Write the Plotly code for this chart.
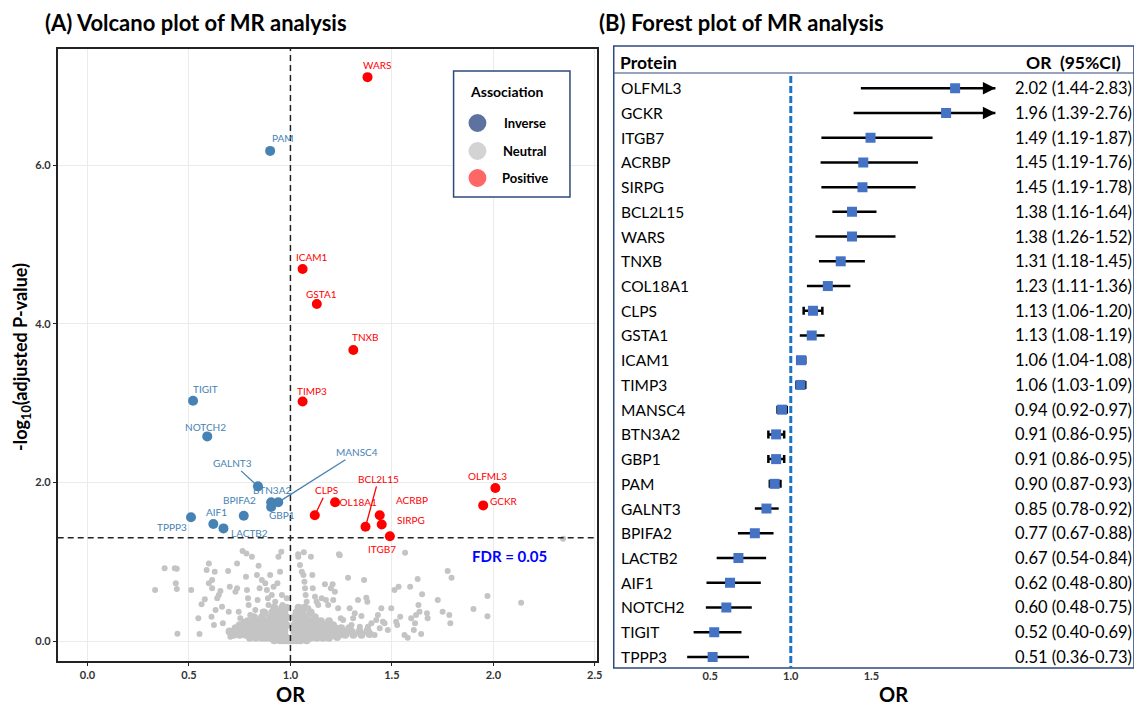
import plotly.graph_objects as go

W, H = 1134, 705
FONT = "Lato"

# ---------------- Volcano data ----------------
sig_genes = ["WARS", "PAM", "ICAM1", "GSTA1", "TNXB", "TIGIT", "TIMP3", "NOTCH2",
             "GALNT3", "BTN3A2", "MANSC4", "GBP1", "BPIFA2", "TPPP3", "AIF1", "LACTB2",
             "CLPS", "COL18A1", "ACRBP", "SIRPG", "BCL2L15", "ITGB7", "OLFML3", "GCKR"]
sig_or = [1.38, 0.90, 1.06, 1.13, 1.31, 0.52, 1.06, 0.59,
          0.84, 0.905, 0.94, 0.905, 0.77, 0.51, 0.62, 0.67,
          1.12, 1.22, 1.44, 1.45, 1.37, 1.49, 2.01, 1.95]
sig_logp = [7.11, 6.18, 4.69, 4.25, 3.67, 3.03, 3.02, 2.58,
            1.95, 1.75, 1.75, 1.69, 1.58, 1.56, 1.475, 1.42,
            1.585, 1.75, 1.585, 1.47, 1.44, 1.32, 1.93, 1.71]
sig_dir = ["Positive", "Inverse", "Positive", "Positive", "Positive", "Inverse", "Positive", "Inverse",
           "Inverse", "Inverse", "Inverse", "Inverse", "Inverse", "Inverse", "Inverse", "Inverse",
           "Positive", "Positive", "Positive", "Positive", "Positive", "Positive", "Positive", "Positive"]

# scattered neutral proteins
neutral_or = [0.38, 0.43, 0.44, 0.435, 0.44, 0.443, 0.511, 0.552, 0.546, 0.562, 0.578, 0.587, 0.598,
              0.598, 0.614, 0.614, 0.623, 0.611, 0.627, 0.631, 0.639, 0.647, 0.655, 0.663, 0.667,
              0.693, 0.696, 0.701, 0.704, 0.704, 0.729, 0.737, 0.737, 0.745, 0.753, 0.770, 0.781,
              0.786, 0.791, 0.794, 0.802, 0.810, 0.827, 0.835, 0.838, 0.843, 0.848, 0.859, 0.863,
              0.876, 0.884, 0.889, 0.892, 0.900, 0.908, 0.917, 0.925, 0.928, 0.936, 0.941, 0.949,
              0.958, 0.961, 0.971, 0.982, 1.039, 1.047, 1.056, 1.064, 1.069, 1.072, 1.075, 1.080,
              1.088, 1.101, 1.108, 1.110, 1.121, 1.129, 1.137, 1.154, 1.170, 1.175, 1.186, 1.199,
              1.208, 1.211, 1.219, 1.235, 1.243, 1.248, 1.260, 1.284, 1.292, 1.301, 1.309, 1.317,
              1.333, 1.342, 1.350, 1.363, 1.374, 1.379, 1.382, 1.399, 1.415, 1.423, 1.431, 1.440,
              1.448, 1.456, 1.464, 1.480, 1.497, 1.513, 1.521, 1.526, 1.533, 1.541, 1.562, 1.578,
              1.590, 1.595, 1.608, 1.614, 1.619, 1.627, 1.631, 1.636, 1.644, 1.649, 1.673, 1.676,
              1.726, 1.750, 1.775, 1.783, 1.788, 1.794, 1.902,
              0.764, 0.783, 0.955, 1.038, 1.066, 1.239, 1.565, 2.344, 0.333, 1.971, 1.971, 2.137]
neutral_logp = [0.916, 0.916, 0.912, 0.727, 0.656, 0.093, 0.643, 0.088, 0.286, 0.463, 0.526, 0.895, 0.979,
                0.727, 0.769, 0.664, 0.202, 0.307, 0.874, 0.391, 0.538, 0.580, 0.631, 0.433, 0.223,
                0.883, 0.370, 0.685, 0.126, 0.055, 0.622, 0.979, 0.664, 0.370, 0.286, 0.244, 0.811,
                0.643, 0.538, 0.454, 0.328, 1.064, 0.391, 0.832, 0.517, 0.950, 0.664, 0.769, 0.370,
                0.727, 0.643, 0.538, 0.454, 0.832, 0.580, 0.685, 0.496, 0.412, 0.727, 1.064, 0.874,
                0.580, 0.454, 0.412, 0.538, 1.064, 0.958, 0.874, 0.832, 0.748, 0.664, 0.580, 0.496,
                0.412, 1.064, 0.832, 0.664, 0.559, 0.496, 0.454, 0.538, 0.715, 0.517, 0.454, 0.664,
                0.715, 0.517, 0.622, 0.412, 1.080, 0.286, 0.265, 0.799, 0.412, 0.202, 0.286, 0.349,
                0.517, 0.181, 0.315, 0.769, 0.547, 0.496, 0.181, 0.223, 0.076, 0.265, 0.328, 0.160,
                0.412, 0.244, 0.223, 0.139, 0.412, 0.643, 0.244, 0.202, 0.685, 0.307, 0.076, 0.042,
                0.685, 0.286, 0.139, 0.223, 0.328, 0.782, 0.454, 0.370, 0.088, 0.589, 0.349, 0.286,
                0.517, 0.370, 0.883, 0.328, 0.223, 0.799, 0.404,
                1.135, 1.105, 1.126, 1.093, 1.118, 1.093, 1.114, 1.290, 0.643, 0.567, 0.311, 0.483]

# dense core of neutral proteins (read row by row)
core_or = [0.92, 0.95, 0.97, 0.99, 1.01, 1.03, 1.05, 1.08,
           0.80, 0.83, 0.86, 0.88, 0.90, 0.93, 0.96, 0.98, 1.02, 1.04, 1.07, 1.10, 1.13, 1.16, 1.19, 1.23,
           0.72, 0.75, 0.78, 0.81, 0.84, 0.87, 0.89, 0.92, 0.95, 0.97, 1.03, 1.06, 1.09, 1.12, 1.15, 1.18,
           1.21, 1.24, 1.27, 1.31, 1.35, 1.39,
           0.70, 0.74, 0.77, 0.80, 0.83, 0.86, 0.89, 0.91, 0.94, 0.97, 1.02, 1.05, 1.08, 1.11, 1.14, 1.17,
           1.20, 1.23, 1.26, 1.30, 1.34, 1.38,
           0.73, 0.76, 0.79, 0.82, 0.85, 0.88, 0.91, 0.94, 0.97, 1.03, 1.06, 1.09, 1.12, 1.15, 1.18, 1.22,
           1.25, 1.29,
           0.75, 0.78, 0.81, 0.84, 0.87, 0.90, 0.93, 0.96, 0.98, 1.02, 1.05, 1.08, 1.11, 1.14, 1.17, 1.21,
           0.79, 0.83, 0.86, 0.89, 0.92, 0.95, 0.97, 1.03, 1.06, 1.09, 1.12, 1.15, 1.19,
           0.82, 0.86, 0.90, 0.93, 0.96, 0.98, 1.02, 1.05, 1.08, 1.12,
           0.87, 0.91, 0.94, 0.97, 1.03, 1.06, 1.10,
           0.92, 0.96, 0.98, 1.04, 1.07]
core_logp = [0.01, 0.01, 0.01, 0.01, 0.01, 0.01, 0.01, 0.01,
             0.04, 0.04, 0.04, 0.04, 0.04, 0.04, 0.04, 0.04, 0.04, 0.04, 0.04, 0.04, 0.04, 0.04, 0.04, 0.05,
             0.08, 0.08, 0.08, 0.08, 0.08, 0.08, 0.08, 0.08, 0.08, 0.08, 0.08, 0.08, 0.08, 0.08, 0.08, 0.08,
             0.08, 0.08, 0.08, 0.08, 0.08, 0.09,
             0.12, 0.12, 0.12, 0.12, 0.12, 0.12, 0.12, 0.12, 0.12, 0.12, 0.12, 0.12, 0.12, 0.12, 0.12, 0.12,
             0.12, 0.12, 0.12, 0.12, 0.12, 0.13,
             0.16, 0.16, 0.16, 0.16, 0.16, 0.16, 0.16, 0.16, 0.16, 0.16, 0.16, 0.16, 0.16, 0.16, 0.16, 0.16,
             0.16, 0.16,
             0.20, 0.20, 0.20, 0.20, 0.20, 0.20, 0.20, 0.20, 0.20, 0.20, 0.20, 0.20, 0.20, 0.20, 0.20, 0.20,
             0.25, 0.25, 0.25, 0.25, 0.25, 0.25, 0.25, 0.25, 0.25, 0.25, 0.25, 0.25, 0.25,
             0.30, 0.30, 0.30, 0.30, 0.30, 0.30, 0.30, 0.30, 0.30, 0.30,
             0.36, 0.36, 0.36, 0.36, 0.36, 0.36, 0.36,
             0.42, 0.42, 0.42, 0.42, 0.42]

FDR_LINE = 1.301  # -log10(0.05)
OR_NULL = 1.0
VX_RANGE = [-0.147, 2.51]
VY_RANGE = [-0.252, 7.465]
volcano_xticks = [0.0, 0.5, 1.0, 1.5, 2.0, 2.5]
volcano_yticks = [0, 2, 4, 6]

# ---------------- Forest data ----------------
forest_proteins = ["OLFML3", "GCKR", "ITGB7", "ACRBP", "SIRPG", "BCL2L15", "WARS", "TNXB",
                   "COL18A1", "CLPS", "GSTA1", "ICAM1", "TIMP3", "MANSC4", "BTN3A2", "GBP1",
                   "PAM", "GALNT3", "BPIFA2", "LACTB2", "AIF1", "NOTCH2", "TIGIT", "TPPP3"]
forest_or = [2.02, 1.964, 1.495, 1.45, 1.445, 1.38, 1.38, 1.31,
             1.23, 1.138, 1.13, 1.064, 1.06, 0.946, 0.909, 0.909,
             0.90, 0.849, 0.777, 0.675, 0.623, 0.60, 0.525, 0.515]
forest_lo = [1.435, 1.39, 1.19, 1.185, 1.19, 1.258, 1.153, 1.175,
             1.10, 1.08, 1.056, 1.04, 1.035, 0.918, 0.861, 0.861,
             0.87, 0.777, 0.672, 0.54, 0.477, 0.473, 0.397, 0.357]
forest_hi = [2.83, 2.76, 1.88, 1.79, 1.775, 1.532, 1.65, 1.46,
             1.37, 1.196, 1.21, 1.09, 1.09, 0.975, 0.959, 0.959,
             0.936, 0.925, 0.893, 0.847, 0.814, 0.758, 0.694, 0.741]
forest_text = ["2.02 (1.44-2.83)", "1.96 (1.39-2.76)", "1.49 (1.19-1.87)", "1.45 (1.19-1.76)",
               "1.45 (1.19-1.78)", "1.38 (1.16-1.64)", "1.38 (1.26-1.52)", "1.31 (1.18-1.45)",
               "1.23 (1.11-1.36)", "1.13 (1.06-1.20)", "1.13 (1.08-1.19)", "1.06 (1.04-1.08)",
               "1.06 (1.03-1.09)", "0.94 (0.92-0.97)", "0.91 (0.86-0.95)", "0.91 (0.86-0.95)",
               "0.90 (0.87-0.93)", "0.85 (0.78-0.92)", "0.77 (0.67-0.88)", "0.67 (0.54-0.84)",
               "0.62 (0.48-0.80)", "0.60 (0.48-0.75)", "0.52 (0.40-0.69)", "0.51 (0.36-0.73)"]
forest_xticks = [0.5, 1.0, 1.5]
CLIP = 2.27  # right end of drawn CI lines (arrow beyond)

# ---------------- styles ----------------
COL_INV = "#4682B4"
COL_POS = "#FF0000"
COL_NEU = "#C4C4C4"
BOX = "#2E4A7D"

def px(xp):
    return xp / W

def py(yp):
    return 1 - yp / H

fig = go.Figure()

# neutral
fig.add_trace(go.Scatter(x=core_or, y=core_logp, mode="markers",
                         marker=dict(size=8, color=COL_NEU), hoverinfo="skip", showlegend=False,
                         xaxis="x", yaxis="y"))
fig.add_trace(go.Scatter(x=neutral_or, y=neutral_logp, mode="markers",
                         marker=dict(size=6, color=COL_NEU), hoverinfo="skip", showlegend=False,
                         xaxis="x", yaxis="y"))
# reference lines (above the neutral cloud, below significant points)
fig.add_trace(go.Scatter(x=[OR_NULL, OR_NULL], y=VY_RANGE, mode="lines",
                         line=dict(color="#222222", width=1.5, dash="6px,4px"), hoverinfo="skip",
                         showlegend=False, xaxis="x", yaxis="y"))
fig.add_trace(go.Scatter(x=VX_RANGE, y=[FDR_LINE, FDR_LINE], mode="lines",
                         line=dict(color="#222222", width=1.5, dash="6px,4px"), hoverinfo="skip",
                         showlegend=False, xaxis="x", yaxis="y"))
# significant
for d, c in (("Inverse", COL_INV), ("Positive", COL_POS)):
    xs = [o for o, dd in zip(sig_or, sig_dir) if dd == d]
    ys = [v for v, dd in zip(sig_logp, sig_dir) if dd == d]
    fig.add_trace(go.Scatter(x=xs, y=ys, mode="markers", marker=dict(size=10, color=c),
                             showlegend=False, xaxis="x", yaxis="y"))

label_offsets = {"WARS": (9, -12), "PAM": (13, -13), "ICAM1": (9, -12), "GSTA1": (5, -10),
                 "TNXB": (12, -13), "TIGIT": (12, -12), "TIMP3": (9, -11), "NOTCH2": (-2, -9),
                 "BTN3A2": (1, -12), "GBP1": (11, 8), "BPIFA2": (-4, -16), "TPPP3": (-19, 10),
                 "AIF1": (3, -12), "LACTB2": (26, 5), "COL18A1": (20, 0), "ACRBP": (32, -15),
                 "SIRPG": (29, -4), "ITGB7": (-8, 13), "OLFML3": (-8, -12), "GCKR": (21, -4)}
leader_offsets = {"GALNT3": (-25, -23), "MANSC4": (79, -50), "CLPS": (12, -25), "BCL2L15": (13, -48)}

annotations = []
for g, o, v, d in zip(sig_genes, sig_or, sig_logp, sig_dir):
    c = COL_INV if d == "Inverse" else COL_POS
    if g in leader_offsets:
        ax, ay = leader_offsets[g]
        annotations.append(dict(x=o, y=v, xref="x", yref="y", text=g, showarrow=True,
                                arrowhead=0, arrowwidth=1.3, arrowcolor=c, ax=ax, ay=ay,
                                standoff=4, font=dict(family=FONT, size=10, color=c)))
    else:
        dx, dy = label_offsets[g]
        annotations.append(dict(x=o, y=v, xref="x", yref="y", text=g, showarrow=False,
                                xanchor="center", yanchor="middle",
                                xshift=dx, yshift=-dy, font=dict(family=FONT, size=10, color=c)))

annotations.append(dict(x=2.08, y=1.07, xref="x", yref="y", text="<b>FDR = 0.05</b>", showarrow=False,
                        xanchor="center", yanchor="middle",
                        font=dict(family=FONT, size=15, color="#0000FF")))


def paper_text(xp, yp, text, size, xanchor="center", **kw):
    return dict(x=px(xp), y=py(yp), xref="paper", yref="paper", text=text, showarrow=False,
                xanchor=xanchor, yanchor="middle",
                font=dict(family=FONT, size=size, color="black"), **kw)


# titles
annotations.append(paper_text(43, 22, "<b>(A) Volcano plot of MR analysis</b>", 22, xanchor="left"))
annotations.append(paper_text(600, 22, "<b>(B) Forest plot of MR analysis</b>", 22, xanchor="left"))
annotations.append(paper_text(292, 694, "<b>OR</b>", 20))
annotations.append(paper_text(898, 694, "<b>OR</b>", 20))
annotations.append(paper_text(22, 357, "<b>-log<sub>10</sub>(adjusted P-value)</b>", 18, textangle=-90))

# legend
shapes = []
shapes.append(dict(type="rect", xref="paper", yref="paper", x0=px(456), x1=px(573), y0=py(197), y1=py(71),
                   line=dict(color=BOX, width=1.5), fillcolor="white", layer="above"))
annotations.append(paper_text(509, 92, "<b>Association</b>", 14))
for lab, col, yc in (("Inverse", "#5E72A0", 123), ("Neutral", "#D3D3D3", 151), ("Positive", "#FF6666", 178)):
    shapes.append(dict(type="circle", xref="paper", yref="paper", x0=px(471), x1=px(489),
                       y0=py(yc + 9), y1=py(yc - 9), fillcolor=col, line=dict(width=0), layer="above"))
    annotations.append(paper_text(528, yc, "<b>%s</b>" % lab, 13))

# ---------------- forest plot ----------------
rows = list(range(len(forest_proteins)))
err_plus = [min(h, CLIP) - o for o, h in zip(forest_or, forest_hi)]
err_minus = [o - l for o, l in zip(forest_or, forest_lo)]
capped = [(h - l) < 0.14 for l, h in zip(forest_lo, forest_hi)]

for cap_flag, capw in ((False, 0), (True, 4)):
    idx = [i for i in rows if capped[i] == cap_flag]
    fig.add_trace(go.Scatter(
        x=[forest_or[i] for i in idx], y=[rows[i] for i in idx], mode="markers",
        marker=dict(symbol="square", size=10, color="#4472C4", line=dict(width=0)),
        error_x=dict(type="data", symmetric=False, array=[err_plus[i] for i in idx],
                     arrayminus=[err_minus[i] for i in idx], color="black", thickness=2.5, width=capw),
        showlegend=False, xaxis="x2", yaxis="y2"))

for i in rows:
    if forest_hi[i] > CLIP:
        annotations.append(dict(x=CLIP, y=rows[i], xref="x2", yref="y2", ax=CLIP - 0.06, ay=rows[i],
                                axref="x2", ayref="y2", text="", showarrow=True, arrowhead=2,
                                arrowsize=1, arrowwidth=2.5, arrowcolor="black"))
    annotations.append(dict(x=px(622), y=rows[i], xref="paper", yref="y2", xanchor="left",
                            yanchor="middle", text=forest_proteins[i], showarrow=False,
                            font=dict(family=FONT, size=15.5, color="black")))
    annotations.append(dict(x=px(1018), y=rows[i], xref="paper", yref="y2", xanchor="left",
                            yanchor="middle", text=forest_text[i], showarrow=False,
                            font=dict(family=FONT, size=16.5, color="black")))

annotations.append(dict(x=px(621), y=-1.05, xref="paper", yref="y2", xanchor="left", yanchor="middle",
                        text="<b>Protein</b>", showarrow=False,
                        font=dict(family=FONT, size=17.5, color="black")))
annotations.append(dict(x=px(1029), y=-1.05, xref="paper", yref="y2", xanchor="left", yanchor="middle",
                        text="<b>OR  (95%CI)</b>", showarrow=False,
                        font=dict(family=FONT, size=17.5, color="black")))

shapes.append(dict(type="rect", xref="paper", yref="paper", x0=px(617), x1=px(1140), y0=py(668), y1=py(46),
                   line=dict(color=BOX, width=1.5), layer="below"))
shapes.append(dict(type="line", xref="paper", yref="paper", x0=px(617), x1=px(1140), y0=py(73), y1=py(73),
                   line=dict(color=BOX, width=1.2)))
shapes.append(dict(type="line", xref="x2", yref="paper", x0=OR_NULL, x1=OR_NULL, y0=py(76), y1=py(668),
                   line=dict(color="#1C74C8", width=3, dash="7px,3px"), layer="below"))

tickfont = dict(family=FONT, size=11, color="#333333", weight="bold")

fig.update_layout(
    width=W, height=H, autosize=False,
    margin=dict(l=0, r=0, t=0, b=0),
    paper_bgcolor="white", plot_bgcolor="white",
    font=dict(family=FONT),
    showlegend=False,
    xaxis=dict(domain=[px(58), px(600)], range=VX_RANGE, tickvals=volcano_xticks,
               ticktext=["%.1f" % t for t in volcano_xticks], showgrid=True, gridcolor="#EBEBEB",
               gridwidth=1, zeroline=False, showline=True, linecolor="#222222", linewidth=1.5,
               mirror=True, ticks="outside", ticklen=3, tickcolor="#222222", tickfont=tickfont,
               anchor="y"),
    yaxis=dict(domain=[py(661), py(49)], range=VY_RANGE, tickvals=volcano_yticks,
               ticktext=["%.1f" % t for t in volcano_yticks], showgrid=True, gridcolor="#EBEBEB",
               gridwidth=1, zeroline=False, showline=True, linecolor="#222222", linewidth=1.5,
               mirror=True, ticks="outside", ticklen=3, tickcolor="#222222", tickfont=tickfont,
               anchor="x"),
    xaxis2=dict(domain=[px(617), 1.0], range=[-0.0988, 3.093], tickvals=forest_xticks,
                ticktext=["%.1f" % t for t in forest_xticks], showgrid=False, zeroline=False,
                showline=False, ticks="", tickfont=tickfont, anchor="y2"),
    yaxis2=dict(domain=[py(668.3), py(45.7)], range=[23.46, -1.72], visible=False, anchor="x2"),
    shapes=shapes,
    annotations=annotations,
)

fig.write_html("out.html", config={"displayModeBar": False},
               post_script="document.body.style.margin='0';document.body.style.overflow='hidden';")
